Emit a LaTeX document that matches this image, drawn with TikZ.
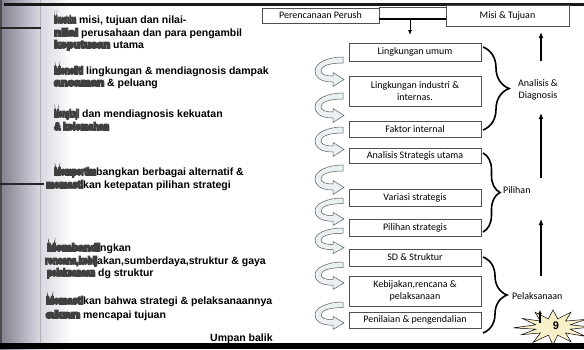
\documentclass[tikz,border=0pt]{standalone}
\usepackage{fontspec}
\setmainfont{Carlito}
\newfontfamily\arialfont{Liberation Sans}
\usetikzlibrary{arrows.meta,decorations.pathreplacing}

\definecolor{boxline}{HTML}{505050}
\definecolor{curlfill}{HTML}{EBF0F2}
\definecolor{starfill}{HTML}{F8F0C8}
\definecolor{panelgray}{HTML}{80808E}
\definecolor{panellight}{HTML}{D8D8E2}

% heavy (filled and stroked), squeezed lead-in words of the left-hand notes
\newcommand\heavytext[1]{\special{pdf:literal direct 2 Tr 1.6 w}#1\special{pdf:literal direct 0 Tr 1 w}}
\newcommand\smd[2]{\resizebox{#1pt}{\height}{\color{black!75}\heavytext{#2}}}

\tikzset{
  stagebox/.style={draw=boxline, line width=0.6pt, fill=white, minimum width=132pt,
    inner sep=1pt, align=center, font=\fontsize{10}{11.5}\selectfont},
  lefttext/.style={anchor=base west, inner sep=0pt, font=\arialfont\bfseries\fontsize{10.5}{12}\selectfont},
  lbl/.style={inner sep=0pt, align=center, font=\fontsize{10}{12}\selectfont},
  bracestyle/.style={decorate, decoration={brace, amplitude=#1}, line width=1.6pt},
  uparrow/.style={line width=1.3pt, -{Latex[length=6pt,width=5pt]}},
  curlstyle/.style={fill=curlfill, draw=black!65, line width=0.5pt},
}

% a curled block arrow, 30 wide and 30 high, tail top right, head bottom right
\newcommand\curlarrow[3]{%
  \begin{scope}[shift={(#1,#2)}, yscale=#3]
    \path[curlstyle] (28,0) -- (28,6) .. controls (14,6) and (6,9) .. (6,14)
      .. controls (6,17) and (10,19) .. (18,19) -- (18,15.5) -- (29,22.5)
      -- (18,29.5) -- (18,25) .. controls (5,25) and (0,20) .. (0,14)
      .. controls (0,6) and (12,0) .. (28,0) -- cycle;
  \end{scope}}

\begin{document}
\begin{tikzpicture}[x=1pt,y=-1pt]
\useasboundingbox (0,0) rectangle (584,349);
\fill[white] (0,0) rectangle (584,349);

% shaded side panel
\shade[left color=panelgray, right color=panellight] (0,0) rectangle (40,349);
\shade[left color=panellight, right color=white] (40,0) rectangle (72,349);
\fill[black!70] (0,0) rectangle (2,349);
\draw[black!30, line width=0.6pt] (40,0) -- (40,349);
\draw[black!85, line width=2pt] (0,28) -- (41,28);
\draw[black!85, line width=2pt] (0,184) -- (44,184);

% rule at the top
\fill[black!90] (4,2.5) rectangle (584,5.5);

% left-hand notes
\node[lefttext] (n1)  at (54,23)  {\smd{22}{Menentukan} misi, tujuan dan nilai-};
\node[lefttext] (n2)  at (54,36)  {\smd{24}{nilai} perusahaan dan para pengambil};
\node[lefttext] (n3)  at (54,48)  {\smd{56}{keputusan} utama};
\node[lefttext] (n4)  at (54,74)  {\smd{29}{Meneliti} lingkungan \& mendiagnosis dampak};
\node[lefttext] (n5)  at (54,86)  {\smd{50}{ancaman} \& peluang};
\node[lefttext] (n6)  at (54,117) {\smd{25}{Mengkaji} dan mendiagnosis kekuatan};
\node[lefttext] (n7)  at (54,130) {\smd{55}{\& kelemahan}};
\node[lefttext] (n8)  at (54,175) {\smd{42}{Mempertim}bangkan berbagai alternatif \&};
\node[lefttext] (n9)  at (46,188) {\smd{37}{memasti}kan ketepatan pilihan strategi};
\node[lefttext] (n10) at (47,251) {\smd{53}{Membandi}ngkan};
\node[lefttext] (n11) at (45,264) {\smd{52}{rencana,kebij}akan,sumberdaya,struktur \& gaya};
\node[lefttext] (n12) at (47,276) {\smd{48}{pelaksanaan} dg struktur};
\node[lefttext] (n13) at (46,304) {\smd{37}{Memasti}kan bahwa strategi \& pelaksanaannya};
\node[lefttext] (n14) at (46,318) {\smd{34}{akan} mencapai tujuan};
\node[lefttext] (ub)  at (210,341) {Umpan balik};

% header boxes
\node[stagebox, minimum width=117pt, minimum height=15pt] (per) at (320.5,15.5) {Perencanaan Perush};
\node[stagebox, minimum width=123pt, minimum height=21pt] (misi) at (507.5,15.5) {Misi \& Tujuan};
\coordinate (jn) at (410,19);
\coordinate (jd) at (410,35);
\draw[boxline, line width=0.5pt] (per.north east) -- (misi.west |- per.north);
\draw[line width=1.6pt] (per.east |- jn) -- (misi.west |- jn);
\draw[line width=1pt, -{Latex[length=5pt,width=4pt]}] (jn) -- (jd);

% stage boxes
\node[stagebox, minimum height=18pt] (b1) at (415,52)    {Lingkungan umum};
\node[stagebox, minimum height=30pt] (b2) at (415,91)    {Lingkungan industri \&\\internas.};
\node[stagebox, minimum height=16pt] (b3) at (415,129)   {Faktor internal};
\node[stagebox, minimum height=15pt] (b4) at (415,155.5) {Analisis Strategis utama};
\node[stagebox, minimum height=17pt] (b5) at (415,197.5) {Variasi strategis};
\node[stagebox, minimum height=17pt] (b6) at (415,227.5) {Pilihan strategis};
\node[stagebox, minimum height=17pt] (b7) at (415,257.5) {SD \& Struktur};
\node[stagebox, minimum height=30pt] (b8) at (415,291)   {Kebijakan,rencana \&\\pelaksanaan};
\node[stagebox, minimum height=16pt] (b9) at (415,320)   {Penilaian \& pengendalian};

% curled arrows between the stages
\curlarrow{315}{57}{1}
\curlarrow{315}{93}{1}
\curlarrow{315}{127}{1}
\curlarrow{315}{165}{1}
\curlarrow{315}{198}{0.93}
\curlarrow{315}{228}{0.87}
\curlarrow{315}{262}{0.93}
\curlarrow{315}{302}{0.93}

% grouping braces
\draw[bracestyle=26pt] (483,47) -- (483,130);
\draw[bracestyle=17pt] (483,153) -- (483,232);
\draw[bracestyle=24pt] (483,257) -- (483,333);
\node[lbl] (lad) at (538,90) {Analisis \&\\Diagnosis};
\node[lbl, anchor=west] (lpi) at (503,190) {Pilihan};
\node[lbl, anchor=west] (lpl) at (512,296) {Pelaksanaan};

% feedback arrows
\coordinate (u1s) at (541,61);  \coordinate (u1e) at (541,32);
\coordinate (u2s) at (541,178); \coordinate (u2e) at (541,113);
\coordinate (u3s) at (541,276); \coordinate (u3e) at (541,219);
\draw[uparrow] (u1s) -- (u1e);
\draw[uparrow] (u2s) -- (u2e);
\draw[uparrow] (u3s) -- (u3e);

% page-number burst
\begin{scope}[shift={(553,327)}, xscale=36, yscale=17]
\filldraw[fill=starfill, draw=black, line width=0.5pt]
  (1.05,0) -- (.48,.13) -- (.9,.55) -- (.35,.35) -- (.5,.87) -- (.13,.48) -- (0,1.05)
  -- (-.13,.48) -- (-.55,.9) -- (-.35,.35) -- (-.87,.45) -- (-.48,.13) -- (-1.1,.05)
  -- (-.48,-.13) -- (-.85,-.5) -- (-.35,-.35) -- (-.5,-.87) -- (-.13,-.48) -- (0,-1)
  -- (.13,-.48) -- (.5,-.87) -- (.35,-.35) -- (.92,-.45) -- (.48,-.13) -- cycle;
\end{scope}
\node[font=\arialfont\bfseries\fontsize{11}{12}\selectfont, inner sep=0pt] (pg) at (556,326) {9};
\coordinate (u4s) at (540,323); \coordinate (u4e) at (540,310);
\draw[line width=1.1pt, -{Latex[length=4pt,width=4pt]}] (u4s) -- (u4e);

% rule at the bottom
\fill[black] (0,343) rectangle (584,349);
\end{tikzpicture}
\end{document}
